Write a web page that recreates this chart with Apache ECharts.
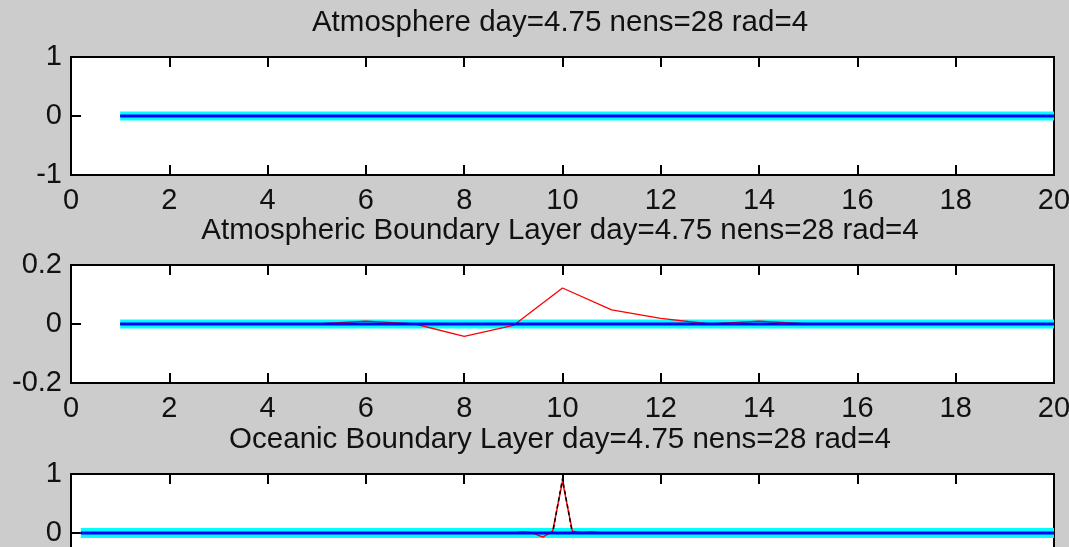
<!DOCTYPE html>
<html>
<head>
<meta charset="utf-8">
<script src="https://cdn.jsdelivr.net/npm/echarts@6/dist/echarts.min.js"></script>
<style>
  html, body { margin: 0; padding: 0; background: #cccccc; }
  #chart { width: 1069px; height: 547px; }
</style>
</head>
<body>
<div id="chart"></div>
<script>
// Panel titles
const titles = [
  'Atmosphere day=4.75 nens=28 rad=4',
  'Atmospheric Boundary Layer day=4.75 nens=28 rad=4',
  'Oceanic Boundary Layer day=4.75 nens=28 rad=4'
];

// Atmosphere / atmospheric boundary layer grid points
const atmX = [1, 2, 3, 4, 5, 6, 7, 8, 9, 10, 11, 12, 13, 14, 15, 16, 17, 18, 19, 20];
const atmTicks = [0, 2, 4, 6, 8, 10, 12, 14, 16, 18, 20];

// Atmosphere: ensemble members and ensemble mean (all at zero)
const atmEnsemble = [0, 0, 0, 0, 0, 0, 0, 0, 0, 0, 0, 0, 0, 0, 0, 0, 0, 0, 0, 0];
const atmMean     = [0, 0, 0, 0, 0, 0, 0, 0, 0, 0, 0, 0, 0, 0, 0, 0, 0, 0, 0, 0];
const atmYTicks = [-1, 0, 1];

// Atmospheric boundary layer
const ablEnsemble = [0, 0, 0, 0, 0, 0, 0, 0, 0, 0, 0, 0, 0, 0, 0, 0, 0, 0, 0, 0];
const ablMean     = [0, 0, 0, 0, 0, 0, 0, 0, 0, 0, 0, 0, 0, 0, 0, 0, 0, 0, 0, 0];
const ablRed      = [0, 0, 0, 0, 0, 0.01, 0, -0.042, -0.005, 0.122, 0.048, 0.019, 0, 0.01, 0, 0, 0, 0, 0, 0];
const ablYTicks = [-0.2, 0, 0.2];

// Oceanic boundary layer (grid points 1..100), breakpoints as [x, y]
const oblTicks = [0, 10, 20, 30, 40, 50, 60, 70, 80, 90, 100];
const oblEnsemble = [[1, 0], [100, 0]];
const oblMean     = [[1, 0], [100, 0]];
const oblRed      = [[1, 0], [45, 0], [46, 0.02], [47, 0], [48, -0.07], [49, 0.03], [50, 0.88],
                     [51, 0.03], [52, 0.01], [53, 0.02], [54, 0], [100, 0]];
const oblBlack    = [[1, 0], [49, 0], [50, 0.92], [51, 0], [100, 0]];
const oblYTicks = [-1, 0, 1];

const FONT = 'Liberation Sans, Arial, sans-serif';
const TXT = '#111111';

const pair = (xs, ys) => xs.map((x, i) => [x, ys[i]]);

const grids = [
  { left: 71, top: 57, width: 983, height: 118 },
  { left: 71, top: 265, width: 983, height: 118 },
  { left: 71, top: 474, width: 983, height: 118 }
].map(g => Object.assign(g, {
  show: true, backgroundColor: '#ffffff', borderColor: '#000000', borderWidth: 2,
  containLabel: false, outerBoundsMode: 'none'
}));

const TICK = { show: true, inside: true, length: 10, lineStyle: { color: '#000', width: 2 } };

function xAxisPair(gi, ticks) {
  const base = {
    gridIndex: gi, type: 'value', min: ticks[0], max: ticks[ticks.length - 1],
    interval: ticks[1] - ticks[0],
    axisLine: { show: false, onZero: false },
    axisTick: TICK,
    splitLine: { show: false }
  };
  return [
    Object.assign({}, base, {
      position: 'bottom',
      axisLabel: { margin: 11, fontSize: 29, fontFamily: FONT, color: TXT }
    }),
    Object.assign({}, base, { position: 'top', axisLabel: { show: false } })
  ];
}

function yAxisPair(gi, ticks, fmt) {
  const base = {
    gridIndex: gi, type: 'value', min: ticks[0], max: ticks[ticks.length - 1],
    interval: ticks[1] - ticks[0],
    axisLine: { show: false, onZero: false },
    axisTick: TICK,
    splitLine: { show: false }
  };
  return [
    Object.assign({}, base, {
      position: 'left',
      axisLabel: { margin: 9, fontSize: 29, fontFamily: FONT, color: TXT, formatter: fmt }
    }),
    Object.assign({}, base, { position: 'right', axisLabel: { show: false } })
  ];
}

const xAxes = [].concat(
  xAxisPair(0, atmTicks),
  xAxisPair(1, atmTicks),
  xAxisPair(2, oblTicks)
);
const fmtInt = v => String(Math.round(v));
const fmtOne = v => (Math.abs(v) < 1e-9 ? '0' : String(Math.round(v * 10) / 10));
const yAxes = [].concat(
  yAxisPair(0, atmYTicks, fmtInt),
  yAxisPair(1, ablYTicks, fmtOne),
  yAxisPair(2, oblYTicks, fmtInt)
);

function line(axisIdx, data, color, width, dashed) {
  return {
    type: 'line', xAxisIndex: axisIdx * 2, yAxisIndex: axisIdx * 2,
    data: data, symbol: 'none', silent: true, animation: false,
    lineStyle: { color: color, width: width, type: dashed ? [4, 3] : 'solid' }
  };
}

const series = [
  line(0, pair(atmX, atmEnsemble), '#00ffff', 9),
  line(0, pair(atmX, atmMean), '#0000ff', 3),

  line(1, pair(atmX, ablEnsemble), '#00ffff', 9),
  line(1, pair(atmX, ablRed), '#ff0000', 1.3),
  line(1, pair(atmX, ablMean), '#0000ff', 3),

  line(2, oblEnsemble, '#00ffff', 10),
  line(2, oblRed, '#ff0000', 1.5),
  line(2, oblBlack, '#000000', 1.5, true),
  line(2, oblMean, '#0000ff', 3)
];

const titleTops = [8, 216, 425];
const title = titles.map((t, i) => ({
  text: t, left: 560, top: titleTops[i], textAlign: 'center', padding: 0,
  textStyle: { fontSize: 29.5, fontWeight: 'normal', fontFamily: FONT, color: TXT }
}));

const chart = echarts.init(document.getElementById('chart'), null, { renderer: 'canvas' });
chart.setOption({
  backgroundColor: '#cccccc',
  animation: false,
  title: title,
  grid: grids,
  xAxis: xAxes,
  yAxis: yAxes,
  series: series
});
</script>
</body>
</html>
